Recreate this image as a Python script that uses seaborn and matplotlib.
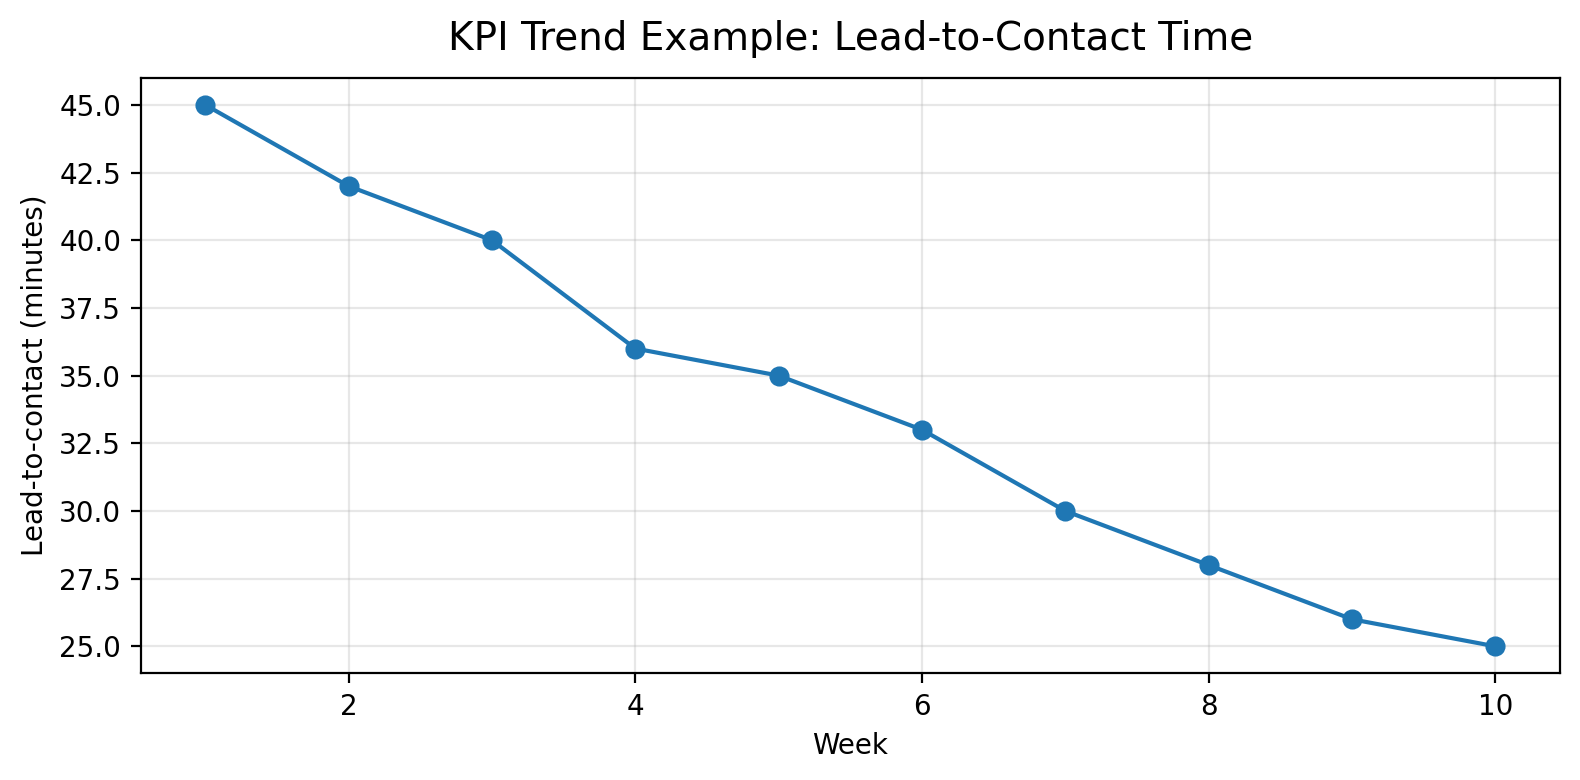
import pandas as pd
import matplotlib
matplotlib.use("Agg")
import matplotlib.pyplot as plt
import seaborn as sns

# データ
weeks = [1, 2, 3, 4, 5, 6, 7, 8, 9, 10]
lead_to_contact = [45, 42, 40, 36, 35, 33, 30, 28, 26, 25]

df = pd.DataFrame({"week": weeks, "minutes": lead_to_contact})

fig, ax = plt.subplots(figsize=(7.9, 3.9), dpi=200)
sns.lineplot(data=df, x="week", y="minutes", marker="o", markersize=6.5,
             markeredgecolor="#1f77b4", color="#1f77b4", linewidth=1.5, ax=ax)

ax.set_title("KPI Trend Example: Lead-to-Contact Time", fontsize=14, pad=10)
ax.set_xlabel("Week")
ax.set_ylabel("Lead-to-contact (minutes)")
ax.grid(True, alpha=0.3)

plt.tight_layout(pad=0.72)
plt.savefig("out.png", dpi=200)
plt.close()
